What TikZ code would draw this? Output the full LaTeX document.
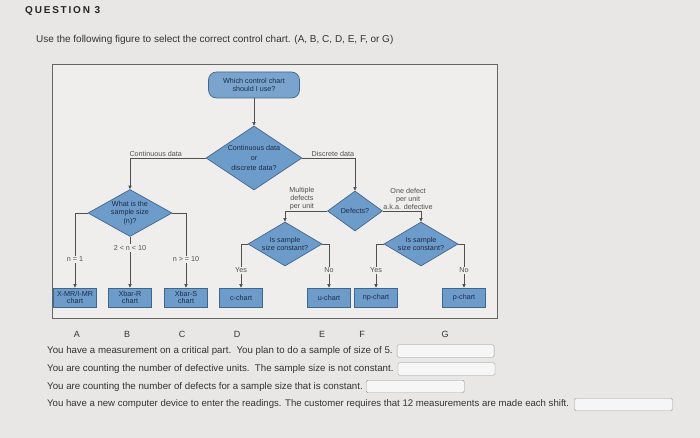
\documentclass[tikz,border=0pt]{standalone}
\usepackage{fontspec}
\setmainfont{Liberation Sans}
\usetikzlibrary{arrows.meta,positioning,shapes.geometric}

\definecolor{pagebg}{HTML}{E8E7E5}
\definecolor{panelbg}{HTML}{EFEEEC}
\definecolor{flowblue}{HTML}{6E9CCA}
\definecolor{flowedge}{HTML}{41668C}
\definecolor{flowtext}{HTML}{1C2B47}
\definecolor{linegrey}{HTML}{505050}
\definecolor{bodytext}{HTML}{333333}

\begin{document}
\begin{tikzpicture}[x=1pt, y=-1pt,
  chartbox/.style={rectangle, draw=flowedge, fill=flowblue, line width=0.7pt,
    minimum width=43pt, minimum height=19pt, inner sep=1pt, align=center,
    font=\fontsize{7.2}{7.5}\selectfont, text=flowtext},
  startbox/.style={rectangle, rounded corners=8pt, draw=flowedge, fill=flowblue!92!white,
    line width=0.7pt, minimum width=91pt, minimum height=26pt, align=center,
    font=\fontsize{7.2}{8.5}\selectfont, text=flowtext},
  question/.style={diamond, draw=flowedge, fill=flowblue, line width=0.7pt,
    inner sep=0pt, align=center, font=\fontsize{7.2}{8.5}\selectfont, text=flowtext},
  flow/.style={draw=linegrey, line width=0.6pt, -{Triangle[length=3.5pt,width=3.2pt]}},
  flowlabel/.style={font=\fontsize{7.2}{8}\selectfont, text=linegrey, inner sep=1pt, align=center},
  onlabel/.style={flowlabel, fill=panelbg},
  answerbox/.style={draw=gray!80, fill=white!93!gray, rounded corners=1.5pt,
    minimum height=12.5pt, inner sep=0pt},
  bodyline/.style={anchor=west, inner sep=0pt, font=\fontsize{9.7}{11}\selectfont, text=bodytext}
]
  \useasboundingbox (0,0) rectangle (700,438);
  \fill[pagebg] (0,0) rectangle (700,438);

  % Heading
  \node[anchor=base west, inner sep=0pt, text=black!85,
    font=\fontsize{10}{12}\selectfont\bfseries\addfontfeature{LetterSpace=18}] (qtitle) at (25,14) {QUESTION 3};
  \node[bodyline, font=\fontsize{10}{12}\selectfont] (instr) at (36,40) {Use the following figure to select the correct control chart. (A, B, C, D, E, F, or G)};

  % Panel
  \draw[draw=black!60, fill=panelbg, line width=0.8pt] (52,64) rectangle (497,318);

  % Questions
  \node[startbox] (start) at (254,85) {Which control chart\\should I use?};
  \node[question, minimum width=96pt, minimum height=64pt, aspect=1.5,
    font=\fontsize{7.2}{10}\selectfont] (datatype) at (254,158) {Continuous data\\or\\discrete data?};
  \node[question, minimum width=84pt, minimum height=47pt, aspect=1.8] (samplesize) at (130,213) {What is the\\sample size\\(n)?};
  \node[question, minimum width=55pt, minimum height=40pt, aspect=1.4] (defects) at (355,211) {Defects?};
  \node[question, minimum width=74pt, minimum height=44pt, aspect=1.7] (constleft) at (285,244) {Is sample\\size constant?};
  \node[question, minimum width=74pt, minimum height=44pt, aspect=1.7] (constright) at (421,244) {Is sample\\size constant?};

  % Charts
  \node[chartbox] (xmr) at (75,297.5) {X-MR/I-MR\\chart};
  \node[chartbox] (xbarr) at (130,297.5) {Xbar-R\\chart};
  \node[chartbox] (xbars) at (186,297.5) {Xbar-S\\chart};
  \node[chartbox] (cchart) at (241,297.5) {c-chart};
  \node[chartbox] (uchart) at (329,297.5) {u-chart};
  \node[chartbox] (npchart) at (376,297.5) {np-chart};
  \node[chartbox] (pchart) at (464,297.5) {p-chart};

  % Connectors
  \draw[flow] (start) -- (datatype);
  \draw[flow] (datatype.west) -| node[flowlabel, pos=0.33, above] {Continuous data} (samplesize.north);
  \draw[flow] (datatype.east) -| node[flowlabel, pos=0.29, above] {Discrete data} (defects.north);
  \draw[flow] (samplesize.west) -| node[onlabel, pos=0.81] {n = 1} (xmr.north);
  \draw[flow] (samplesize.south) -- node[onlabel, pos=0.22] {2 < n < 10} (xbarr.north);
  \draw[flow] (samplesize.east) -| node[onlabel, pos=0.81] {n > = 10} (xbars.north);
  \draw[flow] (defects.west) -| node[flowlabel, pos=0.3, above] {Multiple\\defects\\per unit} (constleft.north);
  \draw[flow] (defects.east) -| node[flowlabel, pos=0.33, above] {One defect\\per unit\\a.k.a. defective} (constright.north);
  \draw[flow] (constleft.west) -| node[onlabel, pos=0.8] {Yes} (cchart.north);
  \draw[flow] (constleft.east) -| node[onlabel, pos=0.8] {No} (uchart.north);
  \draw[flow] (constright.west) -| node[onlabel, pos=0.8] {Yes} (npchart.north);
  \draw[flow] (constright.east) -| node[onlabel, pos=0.8] {No} (pchart.north);

  % Answer letters
  \foreach \ltr/\xpos in {A/77,B/127,C/182,D/237,E/322,F/362,G/445}
    \node[font=\fontsize{9}{10}\selectfont, text=bodytext] (letter\ltr) at (\xpos,334) {\ltr};

  % Statements
  \node[bodyline] (stmtA) at (47,351) {You have a measurement on a critical part.\ \ You plan to do a sample of size of 5.};
  \node[answerbox, minimum width=97pt, right=4pt of stmtA] (boxA) {};
  \node[bodyline] (stmtB) at (47,369) {You are counting the number of defective units.\ \ The sample size is not constant.};
  \node[answerbox, minimum width=97pt, right=4pt of stmtB] (boxB) {};
  \node[bodyline] (stmtC) at (47,386.5) {You are counting the number of defects for a sample size that is constant.};
  \node[answerbox, minimum width=98pt, right=3pt of stmtC] (boxC) {};
  \node[bodyline, font=\fontsize{9.6}{11}\selectfont] (stmtD) at (47,404.5) {You have a new computer device to enter the readings. The customer requires that 12 measurements are made each shift.};
  \node[answerbox, minimum width=98pt, right=5pt of stmtD] (boxD) {};
\end{tikzpicture}
\end{document}
